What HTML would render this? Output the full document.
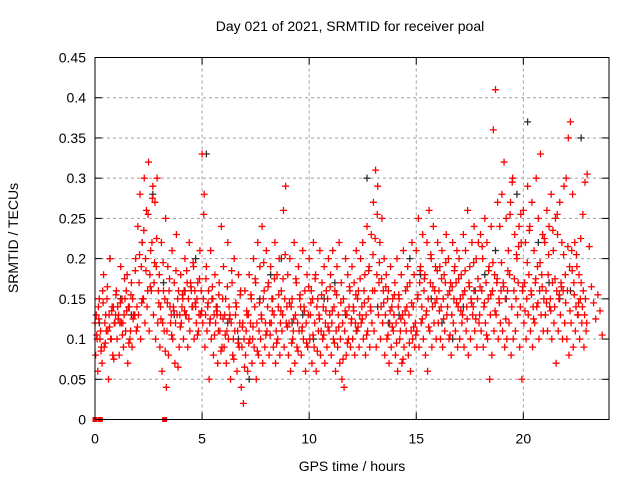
<!DOCTYPE html>
<html><head><meta charset="utf-8"><style>
html,body{margin:0;padding:0;background:#fff;}
svg{display:block;font-family:"Liberation Sans",sans-serif;}
</style></head><body>
<svg id="chart" width="640" height="480">
<text x="350" y="31" font-size="14" text-anchor="middle">Day 021 of 2021, SRMTID for receiver poal</text>
<text x="352" y="471" font-size="14" text-anchor="middle">GPS time / hours</text>
<text transform="translate(18,238) rotate(-90)" font-size="14" text-anchor="middle">SRMTID / TECUs</text>
<g id="grid"></g>
<g id="ticks"></g>
<g id="marks"></g>
<rect x="95" y="57.5" width="514" height="362" fill="none" stroke="#000" stroke-width="1"/>
</svg>
<script>
const xTicks=[0,5,10,15,20];
const yTicks=[0,0.05,0.1,0.15,0.2,0.25,0.3,0.35,0.4,0.45];
const yTickLabels=["0","0.05","0.1","0.15","0.2","0.25","0.3","0.35","0.4","0.45"];
const timeStep=0.1;
const redUpper=[.12,.10,.15,.09,.18,.13,.11,.20,.14,.12,.16,.13,.19,.12,.15,.18,.14,.17,.13,.20,.24,.28,.22,.30,.26,.32,.21,.29,.27,.30,.18,.22,.16,.25,.19,.14,.21,.17,.23,.16,.18,.15,.20,.17,.22,.16,.19,.14,.17,.21,.33,.28,.19,.16,.21,.15,.18,.13,.17,.24,.19,.15,.22,.13,.17,.20,.14,.18,.16,.12,.16,.13,.18,.15,.20,.17,.22,.19,.24,.16,.21,.17,.19,.15,.22,.18,.20,.16,.26,.29,.18,.20,.15,.22,.17,.19,.14,.21,.16,.18,.20,.16,.22,.18,.15,.21,.17,.19,.16,.20,.18,.21,.16,.19,.22,.17,.15,.20,.18,.16,.19,.17,.21,.16,.20,.22,.18,.24,.19,.23,.27,.31,.29,.22,.25,.20,.18,.16,.19,.15,.17,.20,.15,.18,.21,.16,.19,.17,.22,.18,.21,.25,.19,.23,.18,.22,.26,.20,.24,.19,.22,.19,.21,.18,.23,.20,.17,.22,.19,.21,.20,.18,.23,.21,.26,.19,.22,.24,.20,.22,.23,.20,.25,.22,.19,.24,.36,.41,.27,.24,.28,.32,.25,.21,.27,.30,.23,.20,.24,.22,.26,.22,.29,.24,.27,.21,.30,.25,.33,.23,.22,.26,.24,.28,.21,.25,.23,.27,.22,.29,.30,.35,.37,.28,.22,.19,.18,.17,.16,.15];
const redLower=[.08,.06,.10,.07,.09,.11,.05,.10,.08,.12,.10,.08,.12,.09,.11,.07,.10,.09,.13,.11,.13,.10,.15,.12,.14,.11,.16,.13,.10,.12,.09,.06,.11,.04,.08,.12,.10,.07,.13,.09,.12,.10,.13,.09,.11,.14,.10,.12,.11,.13,.12,.09,.11,.05,.10,.08,.12,.07,.11,.09,.09,.07,.10,.05,.08,.11,.06,.09,.04,.02,.08,.06,.10,.07,.09,.05,.08,.10,.07,.09,.11,.08,.12,.09,.07,.10,.08,.11,.09,.12,.08,.06,.10,.07,.09,.11,.08,.10,.06,.09,.10,.07,.09,.06,.11,.08,.10,.07,.09,.11,.08,.10,.06,.09,.07,.05,.04,.08,.10,.09,.10,.08,.11,.09,.12,.10,.08,.11,.09,.12,.11,.09,.13,.10,.12,.08,.10,.07,.09,.11,.08,.06,.10,.07,.09,.11,.08,.06,.10,.09,.11,.09,.12,.10,.08,.06,.11,.09,.12,.10,.12,.10,.09,.11,.13,.10,.08,.12,.11,.09,.10,.12,.09,.11,.08,.10,.13,.11,.09,.12,.11,.09,.12,.10,.05,.08,.11,.13,.10,.12,.11,.09,.10,.12,.08,.10,.11,.13,.09,.05,.12,.10,.13,.11,.09,.12,.14,.10,.13,.11,.13,.11,.14,.10,.12,.07,.11,.13,.10,.12,.10,.08,.12,.09,.11,.13,.10,.12,.09,.11];
const redMid=[.13,.14,.11,.16,.12,.15,.13,.10,.14,.13,.14,.12,.15,.13,.16,.14,.11,.15,.13,.14,.17,.19,.15,.20,.16,.18,.22,.17,.19,.16,.14,.12,.15,.11,.16,.13,.14,.12,.15,.13,.14,.16,.13,.15,.17,.14,.16,.15,.13,.16,.15,.13,.14,.12,.15,.13,.14,.11,.13,.15,.13,.11,.14,.12,.10,.13,.11,.12,.09,.10,.11,.13,.12,.10,.14,.12,.11,.13,.15,.12,.14,.12,.15,.13,.11,.14,.12,.13,.15,.14,.12,.14,.11,.13,.12,.15,.11,.14,.12,.13,.13,.15,.12,.14,.13,.11,.14,.12,.15,.13,.12,.14,.11,.13,.10,.12,.11,.13,.14,.12,.14,.12,.15,.13,.14,.16,.13,.15,.14,.16,.16,.18,.17,.14,.16,.13,.15,.12,.14,.13,.12,.14,.11,.13,.12,.14,.13,.11,.14,.12,.15,.17,.14,.16,.13,.15,.17,.14,.16,.15,.16,.14,.15,.17,.14,.16,.13,.15,.17,.14,.15,.13,.16,.14,.17,.15,.14,.16,.15,.13,.16,.14,.17,.15,.13,.16,.18,.17,.15,.16,.17,.15,.16,.18,.14,.16,.15,.17,.14,.16,.17,.15,.18,.16,.14,.17,.19,.16,.18,.15,.16,.18,.15,.17,.14,.16,.15,.17,.16,.18,.16,.19,.21,.17,.14,.13,.15,.14,.13,.12];
const redExtra=[.105,.125,.085,.145,.095,.165,.115,.135,.075,.155,.125,.145,.105,.175,.135,.095,.155,.125,.185,.115,.205,.145,.235,.185,.255,.165,.275,.195,.225,.145,.125,.195,.085,.145,.175,.105,.135,.185,.065,.115,.155,.135,.185,.125,.165,.195,.145,.105,.175,.135,.255,.175,.145,.125,.165,.105,.135,.155,.085,.125,.105,.165,.125,.185,.075,.145,.095,.155,.115,.065,.135,.095,.155,.115,.175,.085,.145,.125,.195,.105,.165,.105,.135,.175,.095,.155,.135,.175,.205,.115,.145,.095,.125,.175,.085,.155,.115,.135,.095,.165,.145,.105,.175,.085,.125,.155,.105,.135,.115,.165,.135,.095,.155,.115,.145,.075,.135,.095,.165,.125,.135,.155,.115,.175,.125,.145,.105,.185,.135,.205,.225,.255,.195,.175,.145,.165,.105,.135,.115,.155,.095,.155,.125,.075,.135,.165,.095,.145,.115,.105,.155,.185,.125,.175,.135,.115,.205,.165,.145,.185,.135,.175,.125,.195,.155,.105,.165,.185,.145,.175,.135,.155,.185,.125,.165,.145,.195,.125,.175,.165,.215,.145,.105,.185,.155,.195,.135,.175,.145,.195,.165,.125,.185,.255,.295,.175,.205,.215,.255,.165,.135,.195,.235,.155,.125,.175,.145,.195,.165,.225,.145,.205,.135,.235,.175,.255,.155,.165,.205,.145,.215,.135,.185,.155,.205,.145,.225,.255,.295,.305,.215,.165,.145,.125,.155,.135,.105];
const grayStep=0.5;
const grayVals=[.12,.20,.15,.13,.22,.28,.17,.13,.16,.20,.33,.14,.12,.10,.05,.15,.18,.20,.12,.13,.10,.15,.17,.13,.11,.30,.14,.12,.13,.20,.18,.15,.12,.10,.14,.16,.18,.21,.15,.28,.37,.22,.17,.15,.16,.35];
const zeroTimes=[0.0,0.25,3.25];

const X0=95,X1=609,Y0=419.5,Y1=57.5,XMAX=24,YMAX=0.45;
const sx=t=>X0+(X1-X0)*t/XMAX;
const sy=v=>Y0-(Y0-Y1)*v/YMAX;
const NS="http://www.w3.org/2000/svg";
const grid=document.getElementById('grid'),ticks=document.getElementById('ticks'),marks=document.getElementById('marks');
function mk(tag,attrs,parent){const e=document.createElementNS(NS,tag);for(const k in attrs)e.setAttribute(k,attrs[k]);parent.appendChild(e);return e;}
yTicks.forEach((v,i)=>{const y=sy(v);
 if(i>0&&i<yTicks.length-1){const g=mk('line',{x1:X0,x2:X1,y1:y,y2:y,stroke:'#a0a0a0','stroke-dasharray':'3,3'},grid);
 
 }
 const t=mk('line',{x1:X0,x2:X0+7,y1:y,y2:y,stroke:'#000'},ticks);
 
 
 mk('line',{x1:X1,x2:X1-7,y1:y,y2:y,stroke:'#000'},ticks);
 const l=mk('text',{x:X0-9,y:y+5,'font-size':14,'text-anchor':'end'},ticks);l.textContent=yTickLabels[i];
 
 });
xTicks.forEach(v=>{const x=sx(v);
 if(v>0){const g=mk('line',{x1:x,x2:x,y1:Y0,y2:Y1,stroke:'#a0a0a0','stroke-dasharray':'3,3'},grid);
 
 }
 const t=mk('line',{x1:x,x2:x,y1:Y0,y2:Y0-7,stroke:'#000'},ticks);
 
 
 mk('line',{x1:x,x2:x,y1:Y1,y2:Y1+7,stroke:'#000'},ticks);
 const l=mk('text',{x:x,y:Y0+24,'font-size':14,'text-anchor':'middle'},ticks);l.textContent=String(v);
 
 });
function plus(t,v,color,name){const x=sx(t),y=sy(v);
 const p=mk('path',{d:`M${x-3.5},${y}H${x+3.5}M${x},${y-3.5}V${y+3.5}`,stroke:color,'stroke-width':1.3,fill:'none'},marks);
 
 }
grayVals.forEach((v,i)=>plus(i*grayStep+0.2,v,'#303030','gray-point'));
redUpper.forEach((v,i)=>plus(i*timeStep,v,'#ff0000','red-point'));
redLower.forEach((v,i)=>plus(i*timeStep+0.03,v,'#ff0000','red-point'));
redMid.forEach((v,i)=>plus(i*timeStep+0.06,v,'#ff0000','red-point'));
redExtra.forEach((v,i)=>plus(i*timeStep+0.08,v,'#ff0000','red-point'));
zeroTimes.forEach(t=>{const r=mk('rect',{x:sx(t)-2.5,y:Y0-2.5,width:5,height:5,fill:'#ff0000'},marks);
 
 });
</script>
</body></html>
